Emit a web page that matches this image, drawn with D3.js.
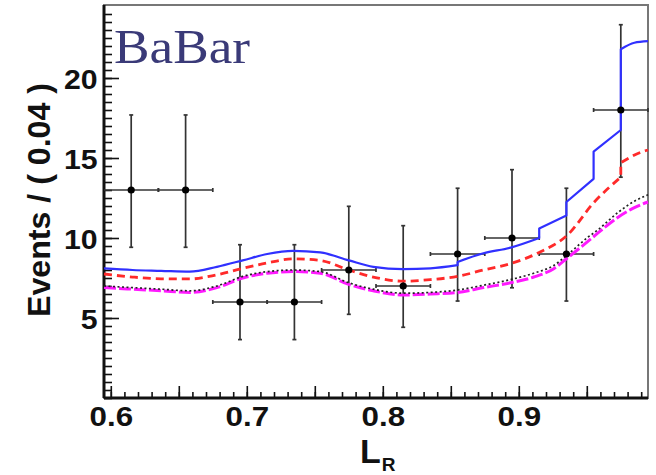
<!DOCTYPE html>
<html>
<head>
<meta charset="utf-8">
<script src="https://cdn.jsdelivr.net/npm/d3@7/dist/d3.min.js"></script>
<style>
	html, body { margin:0; padding:0; background:#fff; }
	svg { display:block; }
	.tick-label { font-family:"Liberation Sans", Arial, sans-serif; font-weight:bold; font-size:28px; fill:#111; }
	.ax-title { font-family:"Liberation Sans", Arial, sans-serif; font-weight:bold; fill:#111; }
</style>
</head>
<body>
<svg id="chart" width="656" height="475"></svg>
<script>
// data points: bin centres, counts and asymmetric (poisson) errors
var binCenters = [0.615, 0.655, 0.695, 0.735, 0.775, 0.815, 0.855, 0.895, 0.935, 0.975];
var binWidth = 0.04;
var counts = [13, 13, 6, 6, 8, 7, 9, 10, 9, 18];
var errLow = [3.58, 3.58, 2.35, 2.35, 2.77, 2.58, 2.94, 3.11, 2.94, 4.20];
var errHigh = [4.69, 4.69, 3.58, 3.58, 3.98, 3.77, 4.11, 4.27, 4.11, 5.33];

// total fit (blue, solid, with steps)
var totalX = [0.595, 0.616, 0.637, 0.658, 0.678, 0.697, 0.715, 0.734, 0.754, 0.775, 0.793, 0.815, 0.835, 0.855, 0.855, 0.874, 0.894, 0.915, 0.915, 0.935, 0.935, 0.955, 0.955, 0.975, 0.975, 0.985, 0.995];
var totalY = [8.1, 8.0, 7.95, 7.9, 8.2, 8.6, 9.0, 9.2, 9.1, 8.6, 8.2, 8.05, 8.1, 8.3, 8.5, 9.05, 9.4, 10.0, 10.6, 11.4, 12.25, 13.7, 15.4, 16.75, 21.8, 22.2, 22.3];

// red dashed component
var redX = [0.595, 0.616, 0.637, 0.658, 0.678, 0.697, 0.715, 0.734, 0.754, 0.775, 0.793, 0.815, 0.835, 0.855, 0.874, 0.894, 0.915, 0.936, 0.955, 0.975, 0.975, 0.991, 0.995];
var redY = [7.75, 7.56, 7.45, 7.44, 7.7, 8.1, 8.44, 8.7, 8.6, 8.0, 7.56, 7.3, 7.4, 7.6, 8.0, 8.4, 9.1, 10.2, 12.2, 13.8, 14.7, 15.4, 15.5];

// black dotted and magenta dashed components
var lowX = [0.595, 0.616, 0.637, 0.658, 0.678, 0.697, 0.715, 0.734, 0.754, 0.775, 0.793, 0.815, 0.835, 0.855, 0.874, 0.894, 0.911, 0.926, 0.935, 0.951, 0.958, 0.973, 0.985, 0.995];
var blackY = [7.0, 6.9, 6.8, 6.7, 7.0, 7.6, 7.9, 8.0, 7.9, 7.2, 6.8, 6.55, 6.6, 6.75, 7.05, 7.4, 7.8, 8.3, 8.9, 10.06, 10.5, 11.6, 12.3, 12.7];
var magentaY = [6.9, 6.8, 6.7, 6.6, 6.9, 7.5, 7.8, 7.9, 7.8, 7.1, 6.7, 6.44, 6.5, 6.6, 6.9, 7.2, 7.56, 8.1, 8.7, 9.8, 10.3, 11.3, 11.9, 12.25];

// axis ticks
var xLabels = [0.6, 0.7, 0.8, 0.9];
var xMajor = [0.6, 0.65, 0.7, 0.75, 0.8, 0.85, 0.9, 0.95];
var yLabels = [5, 10, 15, 20];

var pLeft = 104, pRight = 648, pTop = 5, pBottom = 398;

var svg = d3.select('#chart');

var x = d3.scaleLinear().domain([0.595, 0.995]).range([pLeft, pRight]);
var y = d3.scaleLinear().domain([0, (pBottom - pTop) / 16]).range([pBottom, pTop]);

// frame
svg.append('rect')
	.attr('x', pLeft).attr('y', pTop)
	.attr('width', pRight - pLeft).attr('height', pBottom - pTop)
	.attr('fill', 'none').attr('stroke', '#777').attr('stroke-width', 2);

// x axis ticks (inward)
var xMinorVals = d3.range(60, 100).map(function(v){ return v / 100; });
var gx = svg.append('g').attr('transform', 'translate(0,' + pBottom + ')');
gx.call(d3.axisBottom(x).tickValues(xMinorVals).tickSize(-6).tickFormat(''));
gx.select('.domain').remove();
var gx2 = svg.append('g').attr('transform', 'translate(0,' + pBottom + ')');
gx2.call(d3.axisBottom(x).tickValues(xMajor).tickSize(-12).tickFormat(''));
gx2.select('.domain').remove();
var gx3 = svg.append('g').attr('transform', 'translate(0,' + pBottom + ')');
gx3.call(d3.axisBottom(x).tickValues(xLabels).tickSize(0).tickPadding(8).tickFormat(d3.format('.1f')));
gx3.select('.domain').remove();
gx3.selectAll('text').attr('class', 'tick-label').attr('dy', '0.71em').attr('transform', 'scale(1.12,1)');

// y axis ticks (inward)
var yMinorVals = d3.range(0, 49).map(function(v){ return v / 2; });
var gy = svg.append('g').attr('transform', 'translate(' + pLeft + ',0)');
gy.call(d3.axisLeft(y).tickValues(yMinorVals).tickSize(-8).tickFormat(''));
gy.select('.domain').remove();
var gy2 = svg.append('g').attr('transform', 'translate(' + pLeft + ',0)');
gy2.call(d3.axisLeft(y).tickValues(yLabels).tickSize(-15).tickFormat(d3.format('d')));
gy2.select('.domain').remove();
gy2.selectAll('text').attr('class', 'tick-label').attr('x', -6).attr('dy', '0.36em').attr('transform', 'scale(1.08,1)');
svg.selectAll('.tick line').attr('stroke', '#111').attr('stroke-width', 1.6);

// main axes lines
svg.append('line').attr('x1', pLeft).attr('y1', pTop).attr('x2', pLeft).attr('y2', pBottom)
	.attr('stroke', '#111').attr('stroke-width', 3);
svg.append('line').attr('x1', pLeft).attr('y1', pBottom).attr('x2', pRight).attr('y2', pBottom)
	.attr('stroke', '#111').attr('stroke-width', 3);

// error bars
var gErr = svg.append('g').attr('stroke', '#333').attr('stroke-width', 1.7);
binCenters.forEach(function(c, i){
	var px = x(c), py = y(counts[i]);
	var yHi = y(counts[i] + errHigh[i]), yLo = y(counts[i] - errLow[i]);
	var xl = x(c - binWidth / 2), xr = x(c + binWidth / 2);
	gErr.append('line').attr('x1', px).attr('y1', yHi).attr('x2', px).attr('y2', yLo);
	gErr.append('line').attr('x1', xl).attr('y1', py).attr('x2', xr).attr('y2', py);
	// small end caps
	gErr.append('line').attr('x1', px - 2).attr('y1', yHi).attr('x2', px + 2).attr('y2', yHi);
	gErr.append('line').attr('x1', px - 2).attr('y1', yLo).attr('x2', px + 2).attr('y2', yLo);
	gErr.append('line').attr('x1', xr).attr('y1', py - 2).attr('x2', xr).attr('y2', py + 2);
	if(i > 0)
		gErr.append('line').attr('x1', xl).attr('y1', py - 2).attr('x2', xl).attr('y2', py + 2);
});

// curves: smooth pieces, joined by sharp vertical steps where x repeats
function curvePath(xs, ys){
	var line = d3.line()
		.curve(d3.curveMonotoneX)
		.x(function(d){ return x(d[0]); })
		.y(function(d){ return y(d[1]); });
	var pieces = [], cur = [];
	xs.forEach(function(v, i){
		if(cur.length && v === cur[cur.length - 1][0]){
			pieces.push(cur);
			cur = [];
		}
		cur.push([v, ys[i]]);
	});
	pieces.push(cur);
	return pieces.map(function(p, k){
		var d = line(p);
		return k === 0 ? d : 'L' + d.slice(1);
	}).join('');
}

function addCurve(xs, ys, color, width, dash){
	var p = svg.append('path')
		.attr('d', curvePath(xs, ys))
		.attr('fill', 'none')
		.attr('stroke', color)
		.attr('stroke-width', width)
		.attr('stroke-linejoin', 'round');
	if(dash) p.attr('stroke-dasharray', dash);
	return p;
}
addCurve(lowX, magentaY, '#ff1aff', 3, '12,3');
addCurve(lowX, blackY, '#222', 1.7, '2,2.5');
addCurve(redX, redY, '#ff2a2a', 2.8, '8,5');
addCurve(totalX, totalY, '#3030ff', 2.2, null);

// markers
svg.append('g').selectAll('circle')
	.data(binCenters)
	.enter().append('circle')
	.attr('cx', function(d){ return x(d); })
	.attr('cy', function(d, i){ return y(counts[i]); })
	.attr('r', 3.6)
	.attr('fill', '#000');

// titles
svg.append('text').attr('class', 'ax-title')
	.attr('transform', 'translate(50,200) rotate(-90)')
	.attr('text-anchor', 'middle')
	.attr('font-size', 31)
	.attr('textLength', 234).attr('lengthAdjust', 'spacingAndGlyphs')
	.text('Events / ( 0.04 )');

var xt = svg.append('text').attr('class', 'ax-title')
	.attr('x', 360).attr('y', 463)
	.attr('font-size', 34);
xt.append('tspan').text('L');
xt.append('tspan').attr('font-size', 19).attr('dx', 1).attr('dy', 8).text('R');

svg.append('text')
	.attr('x', 114).attr('y', 63)
	.attr('font-family', '"Liberation Serif", "DejaVu Serif", serif')
	.attr('font-size', 49)
	.attr('fill', '#3a3a78')
	.attr('textLength', 136).attr('lengthAdjust', 'spacingAndGlyphs')
	.text('BaBar');
</script>
</body>
</html>
